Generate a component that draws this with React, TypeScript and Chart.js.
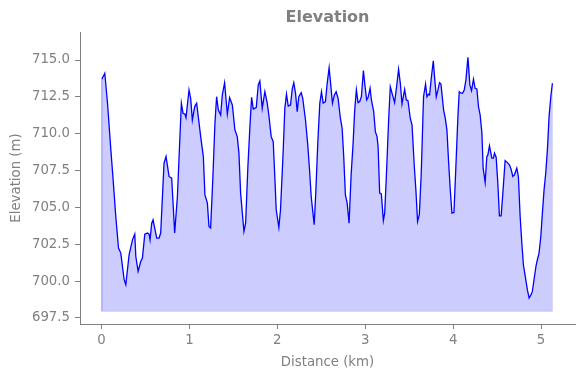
import React, { useEffect, useRef } from "react";
import { Chart, registerables } from "chart.js";

Chart.register(...registerables);

const distances: number[] = [
  0.003, 0.037, 0.068, 0.106, 0.132, 0.162, 0.193, 0.219, 0.257, 0.276,
  0.314, 0.352, 0.378, 0.39, 0.416, 0.446, 0.465, 0.492, 0.522, 0.541,
  0.552, 0.571, 0.586, 0.628, 0.654, 0.673, 0.711, 0.734, 0.768, 0.798,
  0.832, 0.863, 0.908, 0.927, 0.95, 0.961, 0.995, 1.014, 1.033, 1.06,
  1.082, 1.128, 1.158, 1.176, 1.204, 1.222, 1.241, 1.267, 1.29, 1.309,
  1.329, 1.355, 1.374, 1.4, 1.431, 1.457, 1.488, 1.517, 1.544, 1.563,
  1.582, 1.62, 1.639, 1.665, 1.688, 1.707, 1.726, 1.76, 1.783, 1.801,
  1.828, 1.858, 1.885, 1.903, 1.93, 1.953, 1.971, 1.987, 2.017, 2.036,
  2.067, 2.085, 2.104, 2.124, 2.15, 2.169, 2.187, 2.207, 2.226, 2.244,
  2.271, 2.289, 2.32, 2.346, 2.366, 2.385, 2.419, 2.437, 2.46, 2.483,
  2.502, 2.521, 2.547, 2.567, 2.589, 2.604, 2.627, 2.649, 2.669, 2.691,
  2.717, 2.737, 2.755, 2.774, 2.794, 2.816, 2.839, 2.862, 2.88, 2.899,
  2.918, 2.937, 2.956, 2.979, 2.994, 3.016, 3.032, 3.055, 3.07, 3.096,
  3.115, 3.134, 3.146, 3.164, 3.183, 3.206, 3.221, 3.24, 3.266, 3.285,
  3.305, 3.334, 3.361, 3.379, 3.399, 3.418, 3.448, 3.467, 3.486, 3.512,
  3.532, 3.558, 3.577, 3.595, 3.615, 3.637, 3.663, 3.686, 3.702, 3.72,
  3.732, 3.751, 3.774, 3.788, 3.808, 3.827, 3.845, 3.861, 3.872, 3.891,
  3.91, 3.929, 3.947, 3.967, 3.986, 4.009, 4.031, 4.054, 4.069, 4.08,
  4.106, 4.126, 4.145, 4.168, 4.19, 4.209, 4.231, 4.25, 4.27, 4.288,
  4.307, 4.327, 4.341, 4.364, 4.383, 4.395, 4.413, 4.44, 4.458, 4.47,
  4.489, 4.508, 4.526, 4.546, 4.568, 4.591, 4.617, 4.64, 4.659, 4.679,
  4.697, 4.724, 4.742, 4.762, 4.781, 4.799, 4.826, 4.844, 4.864, 4.886,
  4.901, 4.92, 4.943, 4.958, 4.977, 4.997, 5.015, 5.034, 5.053, 5.072,
  5.091, 5.111, 5.129,
];

const elevations: number[] = [
  713.69, 714.1, 712.07, 708.9, 706.87, 704.38, 702.24, 701.9, 700.1, 699.76,
  701.8, 702.8, 703.19, 701.67, 700.66, 701.33, 701.56, 703.19, 703.26, 703.19,
  702.8, 703.93, 704.16, 702.92, 702.92, 703.26, 708.0, 708.45, 707.1, 706.99,
  703.26, 705.74, 712.07, 711.39, 711.32, 711.09, 712.97, 712.4, 710.93, 711.84,
  712.07, 709.8, 708.45, 705.85, 705.29, 703.71, 703.6, 707.1, 710.71, 712.51,
  711.61, 711.27, 712.63, 713.46, 711.32, 712.45, 711.95, 710.26, 709.8, 708.68,
  705.97, 703.37, 703.93, 707.77, 710.48, 712.47, 711.68, 711.77, 713.31, 713.58,
  711.72, 712.85, 712.07, 711.27, 709.8, 709.46, 707.1, 704.84, 703.64, 704.84,
  708.9, 711.72, 712.68, 711.88, 711.95, 713.01, 713.46, 712.74, 711.5, 712.51,
  712.78, 712.4, 710.93, 709.24, 707.55, 705.74, 703.82, 705.97, 709.36, 712.07,
  712.85, 712.07, 712.18, 713.42, 714.48, 713.53, 712.07, 712.63, 712.85, 712.4,
  711.05, 710.37, 708.45, 705.85, 705.29, 703.93, 707.19, 709.36, 711.61, 712.97,
  712.11, 712.18, 712.51, 714.28, 713.42, 712.29, 712.45, 713.08, 712.29, 711.5,
  710.14, 709.8, 709.13, 705.97, 705.92, 704.11, 704.61, 707.1, 710.93, 713.19,
  712.74, 712.11, 713.42, 714.37, 713.42, 712.02, 713.01, 712.29, 712.24, 711.05,
  710.6, 707.77, 706.08, 704.04, 704.5, 707.32, 712.51, 713.37, 712.51, 712.68,
  712.63, 713.76, 714.95, 713.87, 712.51, 712.97, 713.46, 713.37, 712.74, 711.61,
  711.05, 710.26, 708.22, 706.19, 704.61, 704.66, 707.77, 711.16, 712.85, 712.78,
  712.74, 712.97, 713.64, 715.18, 713.31, 712.92, 713.69, 713.08, 713.04, 711.84,
  711.27, 710.03, 707.66, 706.69, 708.45, 708.56, 709.17, 708.34, 708.34, 708.68,
  708.41, 706.65, 704.43, 704.43, 706.19, 708.18, 708.04, 707.89, 707.59, 707.1,
  707.21, 707.66, 707.1, 704.38, 702.58, 701.11, 700.1, 699.42, 698.85, 699.08,
  699.3, 700.1, 701.04, 701.45, 701.9, 703.03, 704.61, 706.19, 707.32, 708.9,
  711.16, 712.51, 713.42,
];

const fillBase = 697.95;
const xTicks: number[] = [0, 1, 2, 3, 4, 5];
const yTicks: number[] = [697.5, 700.0, 702.5, 705.0, 707.5, 710.0, 712.5, 715.0];
const xRange: number[] = [-0.245, 5.386];
const yRange: number[] = [697.09, 716.9];

const titleText = "Elevation";
const xTitle = "Distance (km)";
const yTitle = "Elevation (m)";

const GRAY = "#808080";
const FONT = "DejaVu Sans";

const titlePlugin = {
  id: "centeredTitle",
  afterDraw(chart: any) {
    const { ctx, chartArea } = chart;
    ctx.save();
    ctx.font = `bold 16px "${FONT}"`;
    ctx.fillStyle = GRAY;
    ctx.textAlign = "center";
    ctx.textBaseline = "middle";
    ctx.fillText(titleText, (chartArea.left + chartArea.right) / 2, 18);
    ctx.restore();
  },
};

export default function App() {
  const canvasRef = useRef<HTMLCanvasElement | null>(null);

  useEffect(() => {
    document.body.style.margin = "0";
    const canvas = canvasRef.current;
    if (!canvas) return;
    const points = distances.map((d, i) => ({ x: d, y: elevations[i] }));
    const n = distances.length;
    const edge = [
      { x: distances[0], y: elevations[0] },
      { x: distances[0], y: fillBase },
      { x: distances[n - 1], y: fillBase },
      { x: distances[n - 1], y: elevations[n - 1] },
    ];
    const chart = new Chart(canvas, {
      type: "line",
      data: {
        datasets: [
          {
            data: points,
            borderColor: "#0000ff",
            borderWidth: 1.3,
            backgroundColor: "rgba(0,0,255,0.2)",
            fill: { value: fillBase },
            pointRadius: 0,
            tension: 0,
          } as any,
          {
            data: edge,
            borderColor: "rgba(0,0,255,0.15)",
            borderWidth: 1,
            fill: false,
            pointRadius: 0,
            tension: 0,
          },
        ],
      },
      options: {
        animation: false,
        responsive: false,
        devicePixelRatio: 1,
        layout: { padding: { left: 0, right: 9, top: 32, bottom: 0 } },
        plugins: {
          legend: { display: false },
          tooltip: { enabled: false },
          title: { display: false },
        },
        scales: {
          x: {
            type: "linear",
            min: xRange[0],
            max: xRange[1],
            afterBuildTicks: (scale: any) => {
              scale.ticks = xTicks.map((v) => ({ value: v }));
            },
            afterFit: (scale: any) => {
              scale.height = 54;
            },
            ticks: {
              color: GRAY,
              font: { family: FONT, size: 13.3 },
              padding: 4,
              maxRotation: 0,
              callback: (v: any) => String(v),
            },
            grid: {
              drawOnChartArea: false,
              drawTicks: true,
              tickLength: 5,
              tickColor: GRAY,
            },
            border: { display: true, color: GRAY, width: 1 },
            title: {
              display: true,
              text: xTitle,
              color: GRAY,
              font: { family: FONT, size: 13.3 },
              padding: { top: 0, bottom: 7 },
            },
          },
          y: {
            type: "linear",
            min: yRange[0],
            max: yRange[1],
            afterBuildTicks: (scale: any) => {
              scale.ticks = yTicks.map((v) => ({ value: v }));
            },
            afterFit: (scale: any) => {
              scale.width = 80;
            },
            ticks: {
              color: GRAY,
              font: { family: FONT, size: 13.3 },
              padding: 5,
              callback: (v: any) => Number(v).toFixed(1),
            },
            grid: {
              drawOnChartArea: false,
              drawTicks: true,
              tickLength: 5,
              tickColor: GRAY,
            },
            border: { display: true, color: GRAY, width: 1 },
            title: {
              display: true,
              text: yTitle,
              color: GRAY,
              font: { family: FONT, size: 13.3 },
              padding: { top: 9, bottom: 0 },
            },
          },
        },
      },
      plugins: [titlePlugin],
    });
    return () => chart.destroy();
  }, []);

  return (
    <div style={{ width: 584, height: 378 }}>
      <canvas ref={canvasRef} width={584} height={378} />
    </div>
  );
}
